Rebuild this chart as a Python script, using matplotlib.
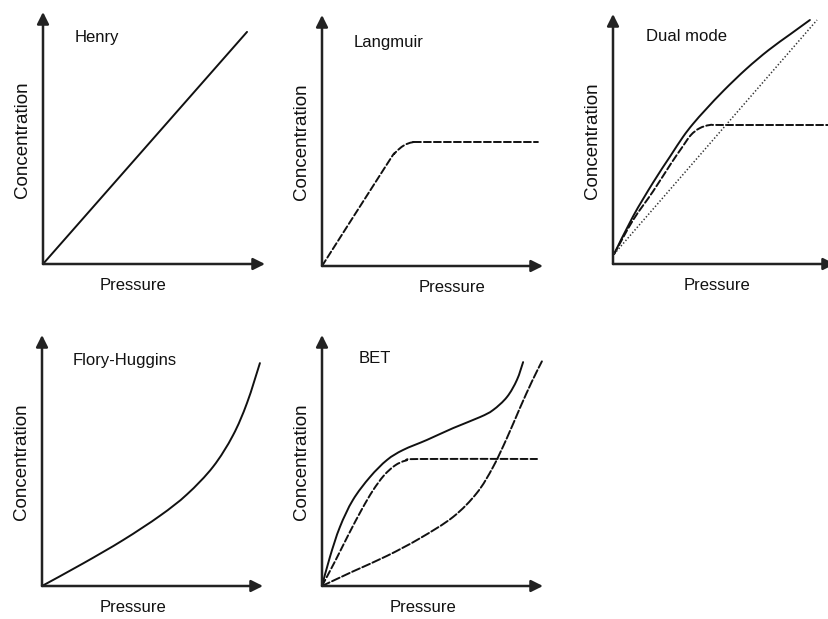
import matplotlib
matplotlib.use("Agg")
import matplotlib.pyplot as plt
import numpy as np
from matplotlib.path import Path
from matplotlib.patches import PathPatch

plt.rcParams['font.family'] = ['Liberation Sans', 'DejaVu Sans']
plt.rcParams['lines.scale_dashes'] = False

W, H = 829, 619

# curves, in units of the axis length (0 = origin, 1 = arrow tip)
henry_x = [0.0, 0.919]
henry_y = [0.0, 0.921]

langmuir_x = [0.0, 0.29, 0.33, 0.37, 0.41, 0.46, 0.977]
langmuir_y = [0.0, 0.40, 0.45, 0.48, 0.493, 0.494, 0.494]

dual_solid_x = [0.005, 0.09, 0.18, 0.257, 0.315, 0.36, 0.42, 0.50, 0.60, 0.70, 0.80, 0.887]
dual_solid_y = [0.04, 0.19, 0.325, 0.43, 0.508, 0.56, 0.62, 0.695, 0.78, 0.855, 0.92, 0.976]
dual_dash_x = [0.005, 0.09, 0.18, 0.26, 0.31, 0.35, 0.39, 0.437, 0.50, 1.0]
dual_dash_y = [0.04, 0.175, 0.29, 0.40, 0.465, 0.515, 0.543, 0.556, 0.556, 0.556]
dual_dot_x = [0.005, 0.919]
dual_dot_y = [0.04, 0.976]

flory_x = [0.0, 0.186, 0.367, 0.534, 0.656, 0.774, 0.864, 0.928, 0.986]
flory_y = [0.0, 0.09, 0.183, 0.28, 0.365, 0.475, 0.60, 0.73, 0.888]

bet_solid_x = [0.0, 0.036, 0.081, 0.140, 0.217, 0.294, 0.367, 0.475, 0.593, 0.715, 0.774, 0.837, 0.882, 0.910]
bet_solid_y = [0.0, 0.116, 0.235, 0.343, 0.434, 0.502, 0.542, 0.582, 0.629, 0.673, 0.701, 0.753, 0.821, 0.892]
bet_dash_x = [0.0, 0.06, 0.12, 0.18, 0.23, 0.28, 0.33, 0.38, 0.443, 0.973]
bet_dash_y = [0.0, 0.10, 0.205, 0.305, 0.38, 0.44, 0.48, 0.50, 0.506, 0.506]
bet_long_x = [0.0, 0.14, 0.294, 0.443, 0.593, 0.701, 0.774, 0.837, 0.896, 0.95, 0.995]
bet_long_y = [0.0, 0.058, 0.12, 0.19, 0.275, 0.371, 0.474, 0.59, 0.71, 0.815, 0.895]

titles = ["Henry", "Langmuir", "Dual mode", "Flory-Huggins", "BET"]

# panel boxes in pixels: origin x, origin y (from top), width, height
boxes = [(43, 264, 222, 252), (322, 266, 221, 251), (613, 264, 222, 250),
         (42, 586, 221, 251), (322, 586, 221, 251)]
title_pos = [(0.144, 0.897), (0.145, 0.89), (0.149, 0.91), (0.14, 0.90), (0.167, 0.908)]
press_x = [0.405, 0.588, 0.468, 0.41, 0.457]

SOLID = dict(ls='-')
DASH = dict(ls=(0, (5, 2.2)))
DOT = dict(ls=(0, (1.0, 1.5)), lw=1.1, ec='#333333', capstyle='butt')
LONG = dict(ls=(0, (6, 2)))


def smooth(ax, x, y, style):
    # Catmull-Rom curve through the read points, drawn as cubic Bezier segments
    pts = np.column_stack([x, y])
    verts, codes = [pts[0]], [Path.MOVETO]
    for i in range(len(pts) - 1):
        p0 = pts[i - 1] if i > 0 else pts[i]
        p1, p2 = pts[i], pts[i + 1]
        p3 = pts[i + 2] if i + 2 < len(pts) else pts[i + 1]
        verts += [p1 + (p2 - p0) / 6, p2 - (p3 - p1) / 6, p2]
        codes += [Path.CURVE4] * 3
    kw = dict(fc='none', ec='#111111', lw=1.4, capstyle='round', joinstyle='round', clip_on=False)
    kw.update(style)
    ax.add_patch(PathPatch(Path(verts, codes), **kw))


fig = plt.figure(figsize=(W / 100, H / 100), dpi=100)

axes = []
for (ox, oy, w, h) in boxes:
    ax = fig.add_axes([ox / W, (H - oy) / H, w / W, h / H])
    ax.set_xlim(0, 1)
    ax.set_ylim(0, 1)
    ax.axis('off')
    arrow = dict(arrowstyle='-|>,head_length=0.7,head_width=0.35', color='#222222',
                 lw=1.8, shrinkA=0, shrinkB=0)
    ax.annotate('', xy=(1, 0), xytext=(0, 0), arrowprops=arrow, annotation_clip=False)
    ax.annotate('', xy=(0, 1), xytext=(0, 0), arrowprops=arrow, annotation_clip=False)
    axes.append(ax)

smooth(axes[0], henry_x, henry_y, SOLID)
smooth(axes[1], langmuir_x, langmuir_y, DASH)
smooth(axes[2], dual_solid_x, dual_solid_y, SOLID)
smooth(axes[2], dual_dash_x, dual_dash_y, DASH)
smooth(axes[2], dual_dot_x, dual_dot_y, DOT)
smooth(axes[3], flory_x, flory_y, SOLID)
smooth(axes[4], bet_solid_x, bet_solid_y, SOLID)
smooth(axes[4], bet_dash_x, bet_dash_y, DASH)
smooth(axes[4], bet_long_x, bet_long_y, LONG)

for ax, t, (tx, ty), px, (ox, oy, w, h) in zip(axes, titles, title_pos, press_x, boxes):
    ax.text(tx, ty, t, fontsize=12, ha='left', va='center', color='#111111')
    ax.text(px, -22 / h, "Pressure", fontsize=12, ha='center', va='center', color='#111111')
    ax.text(-20.5 / w, 0.495, "Concentration", fontsize=13.5, rotation=90,
            ha='center', va='center', color='#111111')

fig.savefig("out.png", dpi=100, facecolor='white')
